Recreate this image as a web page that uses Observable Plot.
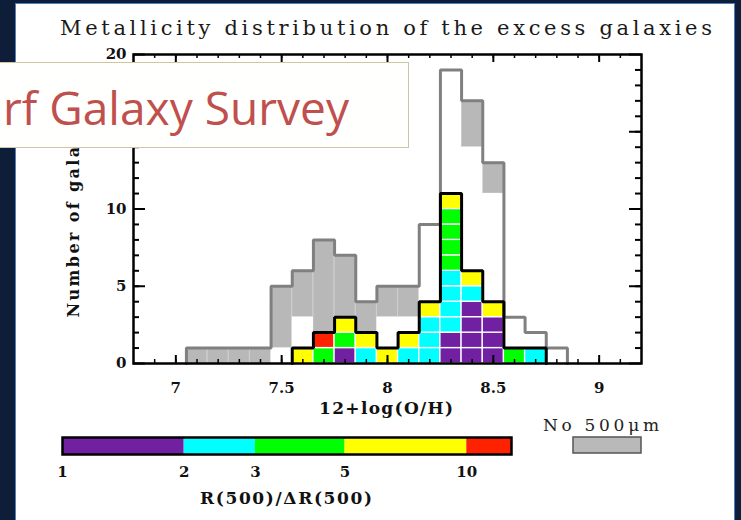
<!DOCTYPE html>
<html><head><meta charset="utf-8">
<script src="https://cdn.jsdelivr.net/npm/d3@7"></script>
<script src="https://cdn.jsdelivr.net/npm/@observablehq/plot@0.6"></script>
<style>
html,body{margin:0;padding:0;background:#0e1e38;}
#stage{position:relative;width:741px;height:520px;overflow:hidden;background:#0e1e38;}
#panel{position:absolute;left:15px;top:3px;width:720px;height:540px;background:#fff;border:1.5px solid #4f7fbf;box-sizing:border-box;}
.abs{position:absolute;left:0;top:0;}
#overlay{position:absolute;left:-3px;top:62px;width:412px;height:86px;background:#fffffe;border:1.5px solid #cdc6a0;box-sizing:border-box;}
#overlay svg{position:absolute;left:0;top:0;}
</style></head><body>
<div id="stage">
  <div id="panel"></div>
  <div id="chart" class="abs"></div>
  <div id="cbar" class="abs" style="top:420px"></div>
  <svg id="labels" class="abs" width="741" height="520" style="font-family:'DejaVu Serif',serif">
    <text x="60" y="35" font-size="21" fill="#1a1a1a" textLength="652" lengthAdjust="spacing">Metallicity distribution of the excess galaxies</text>
    <text transform="translate(79,210) rotate(-90)" text-anchor="middle" font-size="16" font-weight="bold" fill="#111" textLength="215" lengthAdjust="spacing">Number of galaxies</text>
    <text x="386" y="414" text-anchor="middle" font-size="17" font-weight="bold" fill="#111" textLength="134" lengthAdjust="spacing">12+log(O/H)</text>
    <text x="543" y="431" font-size="17" fill="#222" textLength="116" lengthAdjust="spacing">No 500μm</text>
    <rect x="573" y="437" width="68" height="16" fill="#b9b9b9" stroke="#555" stroke-width="1.5"></rect>
    <text x="286" y="504" text-anchor="middle" font-size="17" font-weight="bold" fill="#111" textLength="172" lengthAdjust="spacing">R(500)/ΔR(500)</text>
  </svg>
  <div id="overlay">
    <svg width="412" height="86"><text x="5" y="62" font-family="'Open Sans',sans-serif" font-size="46" fill="#c0504d" textLength="346" lengthAdjust="spacingAndGlyphs">rf Galaxy Survey</text></svg>
  </div>
</div>
<script>
// ---- data ----
const binCenters = [7.1,7.2,7.3,7.4,7.5,7.6,7.7,7.8,7.9,8.0,8.1,8.2,8.3,8.4,8.5,8.6,8.7,8.8];
const binWidth = 0.1;
const allGalaxies = [1,1,1,1,5,6,8,7,4,5,5,9,19,17,13,3,2,1];
const nPurple   = [0,0,0,0,0,0,0,1,0,0,0,0,2,4,3,0,0,0];
const nCyan     = [0,0,0,0,0,0,0,0,1,0,1,3,4,1,0,0,1,0];
const nGreen    = [0,0,0,0,0,0,1,1,0,0,0,0,4,0,0,1,0,0];
const nYellow   = [0,0,0,0,0,1,0,1,1,1,1,1,1,1,1,0,0,0];
const nRed      = [0,0,0,0,0,0,1,0,0,0,0,0,0,0,0,0,0,0];
const nNoExcess = [0,0,0,0,1,2,0,0,0,2,1,5,8,8,7,2,1,1];
const nNo500    = [1,1,1,1,4,3,6,4,2,2,2,0,0,3,2,0,0,0];

const ratioEdges  = [1,2,3,5,10,12.9];
const ratioColors = ["#7020a0","#00ffff","#00ff00","#ffff00","#ff2200"];
const ratioTickLabels = [1,2,3,5,10];

const xTickLabels = [7,7.5,8,8.5,9];
const yMajorTicks = [0,5,10,15,20];
const yTickLabels = [0,5,10,20];   // 15 is hidden under the overlay box
const xDomain = [6.8,9.2];
const yDomain = [0,20];

// ---- derived tables ----
const classCounts = [nPurple,nCyan,nGreen,nYellow,nRed];
const colorCells = [], whiteCells = [], grayBlocks = [];
binCenters.forEach((c,i)=>{
  const x1 = c - binWidth/2, x2 = c + binWidth/2;
  let base = 0;
  classCounts.forEach((arr,k)=>{
    for (let j=0;j<arr[i];j++){ colorCells.push({x1,x2,y1:base,y2:base+1,fill:ratioColors[k]}); base++; }
  });
  for (let j=0;j<nNoExcess[i];j++){ whiteCells.push({x1,x2,y1:base,y2:base+1}); base++; }
  if (nNo500[i]>0) grayBlocks.push({x1,x2,y1:base,y2:base+nNo500[i]});
});
function outline(counts){
  const idx = counts.map((v,i)=>v>0?i:-1).filter(i=>i>=0);
  const a = idx[0], b = idx[idx.length-1];
  const pts = [{x:binCenters[a]-binWidth/2,y:0}];
  for (let i=a;i<=b;i++){
    pts.push({x:binCenters[i]-binWidth/2,y:counts[i]});
    pts.push({x:binCenters[i]+binWidth/2,y:counts[i]});
  }
  pts.push({x:binCenters[b]+binWidth/2,y:0});
  return pts;
}
const colorTotals = binCenters.map((_,i)=>classCounts.reduce((s,arr)=>s+arr[i],0));
const totalOutline = outline(allGalaxies);
const colorOutline = outline(colorTotals);

const W = 741, H = 420, mL = 133, mR = 100, mT = 54, mB = 57;
const FW = W-mL-mR, FH = H-mT-mB;
const xMinor = d3.range(69,92).map(v=>v/10);
const yMinor = d3.range(1,20);
const fontStyle = {background:"transparent",fontFamily:"'DejaVu Serif',serif",fontSize:"15px",fontWeight:"bold",color:"#111"};

const chart = Plot.plot({
  width:W, height:H, marginLeft:mL, marginRight:mR, marginTop:mT, marginBottom:mB,
  style:fontStyle,
  x:{domain:xDomain}, y:{domain:yDomain},
  marks:[
    Plot.rect(grayBlocks,{x1:"x1",x2:"x2",y1:"y1",y2:"y2",fill:"#b8b8b8",stroke:"#cfcfcf",strokeWidth:1}),
    Plot.rect(whiteCells,{x1:"x1",x2:"x2",y1:"y1",y2:"y2",fill:"white"}),
    Plot.rect(colorCells,{x1:"x1",x2:"x2",y1:"y1",y2:"y2",fill:"fill",stroke:"white",strokeWidth:1.3}),
    Plot.line(totalOutline,{x:"x",y:"y",stroke:"#808080",strokeWidth:3,strokeLinejoin:"miter"}),
    Plot.line(colorOutline,{x:"x",y:"y",stroke:"black",strokeWidth:3,strokeLinejoin:"miter"}),
    // inward ticks
    Plot.ruleX(xMinor,{x:d=>d,insetTop:FH-4,stroke:"black",strokeWidth:1.5}),
    Plot.ruleX(xMinor,{x:d=>d,insetBottom:FH-4,stroke:"black",strokeWidth:1.5}),
    Plot.ruleX(xTickLabels,{x:d=>d,insetTop:FH-8,stroke:"black",strokeWidth:2}),
    Plot.ruleX(xTickLabels,{x:d=>d,insetBottom:FH-8,stroke:"black",strokeWidth:2}),
    Plot.ruleY(yMinor,{y:d=>d,insetRight:FW-6,stroke:"black",strokeWidth:2}),
    Plot.ruleY(yMinor,{y:d=>d,insetLeft:FW-6,stroke:"black",strokeWidth:2}),
    Plot.ruleY(yMajorTicks,{y:d=>d,insetRight:FW-12,stroke:"black",strokeWidth:2}),
    Plot.ruleY(yMajorTicks,{y:d=>d,insetLeft:FW-12,stroke:"black",strokeWidth:2}),
    Plot.frame({stroke:"black",strokeWidth:2.5}),
    Plot.axisX({ticks:xTickLabels,tickSize:0,tickPadding:19,tickFormat:d=>String(d),label:null}),
    Plot.axisY({ticks:yTickLabels,tickSize:0,tickPadding:7,tickFormat:d=>String(d),label:null})
  ]
});
document.getElementById("chart").appendChild(chart);

const segments = ratioColors.map((c,i)=>({lo:ratioEdges[i],hi:ratioEdges[i+1],fill:c}));
const cbar = Plot.plot({
  width:W, height:100, marginLeft:62, marginRight:230, marginTop:17, marginBottom:66,
  style:fontStyle,
  x:{type:"log",domain:[ratioEdges[0],ratioEdges[ratioEdges.length-1]]},
  y:{domain:[0,1],axis:null},
  marks:[
    Plot.rect(segments,{x1:"lo",x2:"hi",y1:0,y2:1,fill:"fill"}),
    Plot.frame({stroke:"black",strokeWidth:2.5}),
    Plot.axisX({ticks:ratioTickLabels,tickSize:0,tickPadding:12,tickFormat:d=>String(d),label:null})
  ]
});
document.getElementById("cbar").appendChild(cbar);
</script>
</body></html>
